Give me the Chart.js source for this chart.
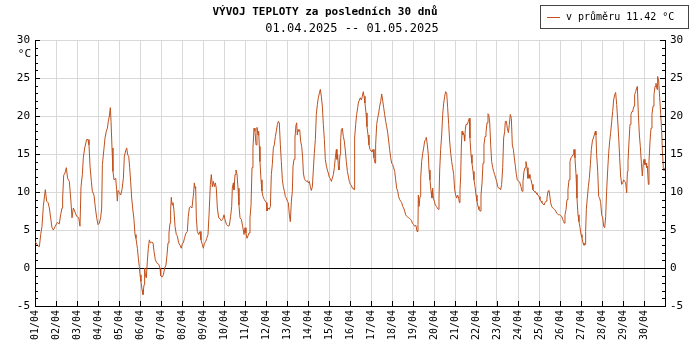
<!DOCTYPE html>
<html>
<head>
<meta charset="utf-8">
<script src="https://cdn.jsdelivr.net/npm/chart.js@4.4.1/dist/chart.umd.min.js"></script>
<style>
  html, body { margin: 0; padding: 0; background: #fff; }
</style>
</head>
<body>
<canvas id="chart" width="700" height="350"></canvas>
<script>
// hours since 01.04.2025 00:00
const hours = [
  0, 3.8, 5.0, 6.5, 8.0, 9.5, 11.0, 11.8, 13.3, 14.9, 16.4, 17.9, 19.4, 21.0, 23.2, 25.5, 27.8, 29.3, 30.9, 31.6,
  32.8, 34.3, 35.8, 37.3, 39.2, 40.8, 42.3, 43.8, 45.3, 47.6, 50.0, 51.4, 52.6, 54.1, 55.2, 56.8,
  59.0, 60.6, 61.7, 62.9, 64.4, 65.5, 67.4, 69.0, 70.5, 72.0, 73.5, 75.0, 76.2, 77.0, 78.9, 80.0, 81.5, 82.7,
  83.8, 85.0, 86.1, 86.9, 88.0, 89.1, 90.3, 92.2, 93.3, 94.1, 94.9, 96.4, 97.9, 99.4, 101.0, 102.1, 103.6,
  104.8, 105.9, 107.1, 108.2, 109.3, 110.5, 111.6, 113.1, 114.3, 115.4, 117.0, 118.1, 119.2,
  120.0, 121.1, 122.3, 123.4, 124.6, 125.3, 126.1, 127.2, 128.4, 129.5, 130.7, 131.8, 133.3, 134.9, 136.0,
  137.5, 139.0, 141.3, 142.9, 143.6, 145.1, 146.7, 148.2, 149.7, 150.9, 152.0, 153.1, 154.3, 155.0, 155.8,
  156.6, 157.7, 158.9, 160.0, 161.5, 162.7, 164.2, 165.7, 167.2, 168.4, 169.5, 171.0, 172.6, 174.1, 175.2,
  176.4, 177.9, 179.4,
  181.3, 182.1, 182.9, 183.6, 184.4, 185.5, 187.1, 188.6, 189.7, 191.2, 192.4, 193.5, 195.1, 196.2, 197.7,
  198.9, 200.4, 201.5, 202.7, 203.8, 205.0, 206.1, 207.2, 208.4, 209.9, 211.4, 213.0, 214.5, 216.0, 217.5,
  219.0, 220.6, 222.1, 223.6, 224.8, 225.5, 226.7, 227.4, 228.6, 229.7, 230.9, 232.0, 233.1, 234.3, 235.8,
  237.3, 238.9, 240.0, 241.1, 242.3,
  244.6, 245.7, 246.9, 248.0, 249.1, 250.3, 251.4, 252.6, 253.7, 254.9, 255.6, 256.4, 257.1, 258.3, 259.4,
  260.6, 262.1, 263.2, 264.4, 265.1, 266.3, 267.8, 269.0, 270.1, 271.2, 272.4, 273.5, 274.7, 275.8, 277.0,
  278.1, 279.2, 280.4, 281.5, 282.7, 283.8, 285.0, 286.1, 287.2, 288.4, 289.5, 290.7, 291.8, 293.0, 294.1,
  294.9, 296.0, 297.1, 298.3, 299.0, 299.8, 300.6, 301.3, 302.5, 303.6, 304.8,
  305.9, 306.7, 307.8, 309.0, 310.1, 311.2, 312.4, 313.5, 314.7, 315.8, 317.0, 318.1, 319.2, 320.4, 321.5,
  322.7, 323.8, 325.0, 326.1, 327.2, 328.4, 329.5, 330.7, 331.8, 333.0, 334.1, 335.2, 336.4, 337.5, 338.7,
  339.8, 341.0, 342.1, 343.2, 344.4, 345.1, 345.9, 346.7, 347.4, 348.6, 349.3, 350.1, 351.2, 352.4, 353.5,
  354.7, 355.8, 357.0, 358.1, 359.2, 360.4, 361.5, 362.7, 363.8, 364.6, 365.3, 366.5, 367.6, 368.8,
  369.5, 370.7, 371.8, 373.0, 374.1, 375.2, 376.0, 377.1, 378.3, 379.4, 380.6, 381.7, 382.9, 384.0, 385.1,
  386.3, 387.4, 388.6, 389.3, 390.5, 391.6, 392.8, 393.9, 395.1, 396.2, 397.3, 398.5, 399.6, 400.8, 401.9,
  403.1, 404.2, 405.3, 406.5, 407.6, 408.8, 409.9, 411.1, 412.2, 413.3, 414.5, 415.6, 416.8, 417.9, 419.1,
  420.2, 421.3, 422.5, 423.6, 424.8, 425.9, 427.1, 428.2, 429.3, 430.5,
  431.2, 432.8, 433.9, 435.4, 436.6, 437.7, 438.1, 438.9, 440.0, 440.8, 441.9, 443.1, 444.2, 445.3, 446.5,
  447.2, 448.4, 449.5, 450.3, 451.4, 452.6, 453.7, 454.5, 455.2, 456.4, 457.5, 458.7, 459.8, 461.0, 461.7,
  462.5, 463.6, 464.8, 465.9, 467.1, 468.2, 469.3, 470.5, 471.6, 472.8, 473.9, 475.1, 476.2, 477.3, 478.5,
  479.6, 480.8, 481.9, 483.0, 484.2, 485.0, 485.7, 486.5, 487.2, 488.0, 488.8, 489.5, 490.3, 491.0, 491.8, 492.6,
  494.1, 495.2, 496.4, 497.1, 498.3, 499.4, 500.6, 501.7, 502.9, 504.0, 505.1, 506.3, 507.4, 508.6, 509.7,
  510.9, 512.0, 513.1, 514.3, 515.4, 516.6, 517.7, 518.5, 519.6, 520.8, 521.9, 523.1, 524.2, 525.3, 526.5,
  527.6, 528.8, 529.9, 531.1, 532.2, 533.3, 534.5, 535.6, 536.8, 537.5, 538.7, 539.8, 541.0, 542.1, 543.2,
  544.4, 545.5, 546.7, 547.8, 549.0, 550.1, 551.2, 552.8, 553.9,
  555.4, 556.6, 557.7, 558.9, 560.0, 561.1, 562.3, 563.4, 564.6, 565.7, 566.9, 568.0, 569.1, 570.3, 571.4,
  572.6, 573.7, 574.9, 576.0, 577.1, 578.3, 579.4, 580.6, 581.7, 582.9, 584.0, 585.1, 586.3, 587.4, 588.2,
  589.3, 590.5, 591.6, 592.8, 593.9, 595.1, 596.2, 597.3, 598.5, 599.6, 600.8, 601.9, 603.1, 604.2, 605.0,
  605.7, 606.9, 608.0, 609.1, 610.3, 611.4, 612.6, 613.7, 614.9, 615.6,
  616.0, 617.1, 618.3, 619.4, 620.6, 621.7, 622.9, 624.0, 625.1, 626.3, 627.4, 628.6, 629.3, 630.1, 631.2,
  632.4, 633.5, 634.7, 635.8, 637.0, 638.1, 639.2, 640.4, 641.1, 641.9, 643.1, 644.2, 645.3, 646.5, 647.6,
  648.8, 649.9, 651.1, 652.2, 653.3, 654.5, 655.6, 656.8, 657.9, 659.1, 660.2, 661.3, 662.5, 663.6, 664.8,
  665.9, 667.1, 668.2, 669.3, 670.5, 671.6, 672.8, 673.9, 675.1, 676.2, 677.0,
  677.7, 678.9, 680.0, 681.1, 682.3, 683.4, 684.6, 685.3, 686.5, 687.6, 688.4, 689.5, 690.7, 691.8, 693.0,
  694.1, 695.2, 696.0, 697.1, 698.3, 699.0, 699.8, 701.0, 701.7, 702.9, 704.0, 705.1, 706.3, 707.4, 708.6,
  709.7, 710.9, 711.6, 712.8, 713.9, 715.1, 716.2, 717.0, 718.1, 718.9, 720.0
];

// temperature, °C
const temps = [
  3.5, 2.85, 2.8, 4.4, 5.5, 8.1, 9.6, 10.3, 8.8, 8.6, 7.9, 6.6, 5.3, 5.0, 5.5, 6.0, 5.8, 7.0, 7.9, 9.2,
  12.2, 12.5, 13.2, 11.8, 11.4, 9.2, 6.6, 7.9, 7.5, 6.8, 6.6, 5.5, 10.7, 12.3, 14.5, 15.8,
  16.9, 16.9, 16.2, 13.4, 11.4, 10.1, 9.6, 7.9, 6.6, 5.7, 5.9, 6.6, 7.9, 13.6, 15.8, 17.1, 18.0, 18.4,
  19.3, 20.0, 21.1, 19.3, 15.8, 12.7, 11.6, 11.8, 10.3, 8.8, 10.2, 9.9, 9.6, 10.3, 11.8, 14.7, 15.4,
  15.8, 14.9, 14.7, 13.2, 11.4, 9.2, 7.9, 6.4, 4.4, 3.9, 2.6, 1.3, 0.2,
  -0.9, -1.75, -2.85, -3.5, -2.2, 0, -0.9, -1.3, 0.9, 2.6, 3.7, 3.3, 3.4, 3.3, 2.2,
  1.1, 0.7, 0.5, 0, -1.0, -1.2, -0.9, 0, 0.4, 1.75, 3.3, 4.6, 5.9, 7.7, 9.3,
  8.3, 8.6, 7.5, 5.5, 4.4, 4.2, 3.3, 3.0, 2.6, 3.2, 3.3, 4.0, 4.6, 4.8, 6.8,
  7.9, 8.1, 7.9,
  9.9, 11.2, 10.5, 10.7, 6.6, 4.8, 4.4, 4.8, 3.7, 3.1, 2.6, 3.2, 3.5, 3.9, 4.4,
  7.0, 11.0, 12.3, 10.7, 11.4, 10.7, 11.2, 10.5, 7.9, 6.6, 6.5, 6.2, 6.4, 7.0, 6.2,
  5.7, 5.5, 5.6, 6.8, 8.1, 10.5, 11.2, 10.3, 12.3, 12.9, 12.3, 10.5, 8.3, 6.6, 6.4,
  5.5, 4.4, 5.3, 4.6, 3.9,
  4.6, 6.6, 8.3, 13.2, 15.8, 18.4, 18.0, 16.2, 18.5, 17.5, 18.0, 16.0, 14.0, 11.6, 10.1,
  9.4, 9.0, 8.8, 8.6, 7.5, 7.9, 7.7, 8.1, 12.3, 13.6, 15.8, 16.2, 17.3, 18.0, 18.9,
  19.3, 19.1, 16.2, 14.0, 11.6, 10.7, 10.1, 9.4, 9.2, 8.8, 8.6, 7.0, 6.1, 8.8, 10.1,
  13.4, 14.3, 17.1, 18.9, 19.1, 17.5, 18.2, 18.0, 18.2, 16.7, 16.0,
  14.5, 12.5, 11.8, 11.5, 11.4, 11.5, 11.2, 11.4, 10.7, 10.2, 10.7, 12.9, 15.1, 16.9, 20.2,
  21.5, 22.4, 23.0, 23.5, 22.6, 21.3, 18.9, 16.9, 14.3, 13.4, 12.9, 12.5, 11.9, 11.8, 11.4,
  11.8, 12.3, 13.2, 14.5, 15.6, 14.3, 14.9, 13.4, 12.9, 14.9, 16.7, 18.2, 18.4, 17.3, 16.7,
  15.4, 14.0, 12.7, 12.1, 11.4, 11.0, 10.9, 10.5, 10.5, 10.3, 17.1, 18.9, 20.2, 21.1,
  21.7, 22.1, 22.4, 22.1, 22.6, 23.2, 22.6, 21.7, 20.4, 18.6, 17.5, 16.2, 15.6, 15.4, 15.3,
  15.6, 14.5, 13.8, 16.2, 18.9, 19.7, 20.4, 21.3, 21.9, 22.9, 22.1, 21.1, 20.2, 19.3, 18.6,
  17.8, 16.7, 15.6, 14.5, 13.8, 13.6, 13.2, 12.7, 11.6, 10.5, 10.1, 9.4, 9.0, 8.8, 8.6,
  8.1, 7.9, 7.5, 7.0, 6.8, 6.7, 6.6, 6.5, 6.4, 6.2,
  5.9, 5.7, 5.5, 5.6, 4.8, 5.7, 9.6, 8.1, 9.4, 11.8, 14.0, 15.1, 15.8, 16.7, 16.9,
  17.2, 16.2, 14.9, 12.9, 11.6, 10.1, 9.2, 10.5, 9.2, 8.8, 8.3, 8.1, 7.9, 7.7, 9.2,
  12.9, 15.6, 17.5, 20.2, 21.7, 22.6, 23.2, 23.0, 21.1, 18.9, 16.7, 15.1, 14.0, 13.2, 12.3,
  10.3, 9.6, 9.2, 9.6, 9.2, 8.6, 10.3, 12.1, 15.8, 18.0, 17.5, 17.8, 17.5, 16.7, 18.2, 18.9,
  18.9, 19.3, 19.7, 17.1, 14.9, 13.8, 12.7, 11.6, 10.7, 9.6, 8.8, 8.1, 7.7, 7.5, 9.6,
  11.2, 13.8, 16.2, 17.3, 17.8, 19.1, 20.3, 20.2, 19.3, 16.2, 14.0, 13.2, 12.7, 12.3, 11.8,
  11.4, 10.7, 10.5, 10.5, 10.3, 11.0, 13.2, 17.1, 18.0, 19.3, 19.3, 18.4, 17.8, 18.9, 20.2,
  19.7, 16.2, 15.6, 14.5, 13.4, 12.3, 11.6, 11.4, 11.3,
  10.7, 10.1, 11.4, 12.7, 13.2, 14.0, 13.2, 11.8, 12.3, 11.8, 11.6, 11.0, 10.3, 10.1, 10.0,
  9.9, 9.7, 9.6, 9.4, 9.0, 8.8, 8.6, 8.4, 8.3, 8.6, 8.8, 9.2, 10.1, 10.2, 9.6,
  8.6, 8.1, 7.9, 7.8, 7.7, 7.5, 7.2, 7.1, 7.0, 7.0, 6.9, 6.8, 6.4, 6.1, 5.9,
  7.0, 7.7, 9.0, 10.3, 11.6, 14.0, 14.5, 14.5, 14.9, 15.1,
  15.6, 14.5, 12.3, 9.2, 7.0, 6.1, 5.3, 4.4, 4.0, 3.3, 3.0, 3.1, 4.8, 7.7, 9.2,
  10.7, 11.8, 13.6, 15.6, 16.7, 17.1, 17.5, 18.0, 17.5, 14.9, 12.7, 9.4, 9.2, 8.6, 7.0,
  6.6, 5.5, 5.3, 6.8, 10.1, 12.9, 15.1, 16.7, 17.8, 19.3, 20.6, 22.1, 22.8, 23.1, 21.5,
  19.5, 17.1, 14.5, 12.1, 11.0, 11.2, 11.6, 11.4, 11.2, 9.9, 12.7,
  14.0, 16.7, 18.9, 20.2, 20.6, 20.8, 21.3, 22.8, 23.2, 23.7, 23.9, 20.4, 17.5, 16.0, 13.8,
  12.1, 13.8, 14.3, 13.6, 13.8, 13.2, 13.4, 11.0, 14.0, 16.7, 18.4, 20.2, 21.3, 22.8, 23.9,
  24.3, 23.5, 25.2, 24.6, 22.4, 20.2, 18.0, 15.4, 13.2, 12.8, 13.2
];

const dayLabels = [
  '01/04', '02/04', '03/04', '04/04', '05/04', '06/04', '07/04', '08/04', '09/04', '10/04',
  '11/04', '12/04', '13/04', '14/04', '15/04', '16/04', '17/04', '18/04', '19/04', '20/04',
  '21/04', '22/04', '23/04', '24/04', '25/04', '26/04', '27/04', '28/04', '29/04', '30/04'
];
const yTicks = [-5, 0, 5, 10, 15, 20, 25, 30];

const titleText = 'VÝVOJ TEPLOTY za posledních 30 dnů';
const subtitleText = '01.04.2025 -- 01.05.2025';
const legendText = 'v průměru 11.42 °C';

const lineColor = '#c0501c';
const gridColor = '#d9d9d9';
const mono = 'DejaVu Sans Mono';

// ticks inside the frame, titles and the legend box
const decor = {
  id: 'decor',
  afterDraw(chart) {
    const { ctx, chartArea: a, scales } = chart;
    const y = scales.y, x = scales.x;
    ctx.save();
    ctx.strokeStyle = '#000';
    ctx.lineWidth = 1;
    ctx.beginPath();
    for (let v = yTicks[0]; v <= yTicks[yTicks.length - 1]; v++) {
      const py = Math.round(y.getPixelForValue(v)) + 0.5;
      const len = v % 5 === 0 ? 5 : 3;
      ctx.moveTo(a.left, py); ctx.lineTo(a.left + len, py);
      ctx.moveTo(a.right, py); ctx.lineTo(a.right - len, py);
    }
    for (let d = 0; d <= dayLabels.length; d++) {
      const px = Math.round(x.getPixelForValue(d * 24)) + 0.5;
      ctx.moveTo(px, a.bottom); ctx.lineTo(px, a.bottom - 5);
    }
    ctx.stroke();

    ctx.fillStyle = '#000';
    ctx.textBaseline = 'middle';
    ctx.textAlign = 'center';
    ctx.font = 'bold 11px ' + mono;
    ctx.fillText(titleText, 325, 12);
    ctx.font = '12px ' + mono;
    ctx.fillText(subtitleText, 352, 29);

    ctx.font = '11px ' + mono;
    ctx.textAlign = 'right';
    ctx.fillText('°C', 31, 54);

    // legend
    ctx.strokeStyle = '#444';
    ctx.strokeRect(540.5, 5.5, 148, 23);
    ctx.strokeStyle = lineColor;
    ctx.beginPath();
    ctx.moveTo(547, 17.5); ctx.lineTo(560, 17.5);
    ctx.stroke();
    ctx.textAlign = 'left';
    ctx.font = '10px ' + mono;
    ctx.fillText(legendText, 566, 17);
    ctx.restore();
  }
};

const points = hours.map((h, i) => ({ x: h, y: temps[i] }));
const tickFont = { family: mono, size: 11 };

new Chart(document.getElementById('chart'), {
  type: 'line',
  data: {
    datasets: [{
      data: points,
      borderColor: lineColor,
      borderWidth: 1,
      pointRadius: 0,
      tension: 0,
      fill: false
    }]
  },
  options: {
    responsive: false,
    animation: false,
    layout: { padding: { top: 40 } },
    plugins: {
      legend: { display: false },
      title: { display: false },
      tooltip: { enabled: false }
    },
    scales: {
      x: {
        type: 'linear',
        min: 0,
        max: dayLabels.length * 24,
        afterFit: s => { s.height = 44; },
        grid: { color: gridColor, drawTicks: false },
        border: { color: '#000' },
        ticks: {
          stepSize: 24,
          autoSkip: false,
          minRotation: 90,
          maxRotation: 90,
          padding: 4,
          color: '#000',
          font: { family: mono, size: 10 },
          callback: v => dayLabels[v / 24] || ''
        }
      },
      y: {
        min: yTicks[0],
        max: yTicks[yTicks.length - 1],
        afterFit: s => { s.width = 35; },
        grid: {
          color: c => c.tick && c.tick.value === 0 ? '#000' : gridColor,
          drawTicks: false
        },
        border: { color: '#000' },
        ticks: { stepSize: 5, padding: 5, color: '#000', font: tickFont }
      },
      y2: {
        position: 'right',
        min: yTicks[0],
        max: yTicks[yTicks.length - 1],
        afterFit: s => { s.width = 35; },
        grid: { display: false, drawTicks: false },
        border: { color: '#000' },
        ticks: { stepSize: 5, padding: 5, color: '#000', font: tickFont }
      }
    }
  },
  plugins: [decor]
});
</script>
</body>
</html>
